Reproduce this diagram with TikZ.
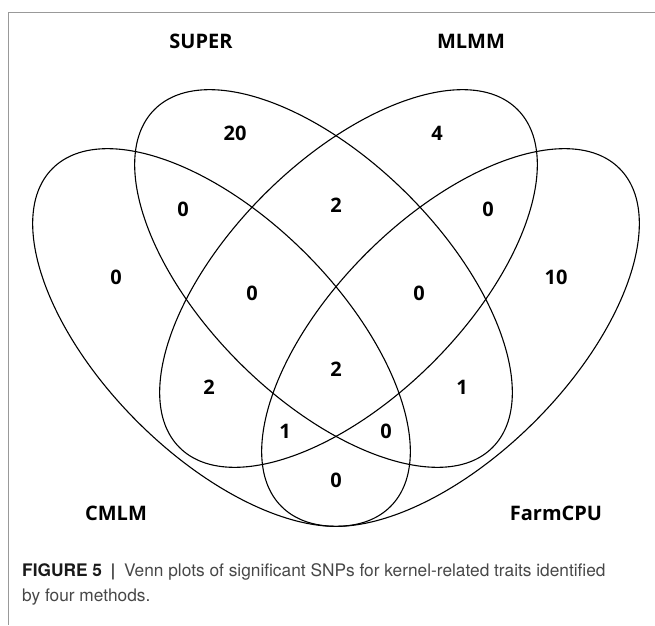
\documentclass[tikz,border=0pt]{standalone}
\usepackage{fontspec}
\usepackage{xcolor}
\usepackage{tikz}
\usetikzlibrary{positioning}
\newfontfamily\vennfont{Open Sans}
\newfontfamily\capfont{TeX Gyre Heros}

\begin{document}
\begin{tikzpicture}[
    x = 1pt, y = 1pt,
      set/.style = {draw, line width=1.1pt},
      num/.style = {font=\vennfont\bfseries\fontsize{20}{24}\selectfont,
                    inner sep=0pt},
      cat/.style = {num},
     capt/.style = {font=\capfont\fontsize{17.3}{21}\selectfont, text=black!72,
                    inner sep=0pt, anchor=base west}
                   ]
\useasboundingbox (0,0) rectangle (655,625);
% frame
\draw[black!40, line width=0.8pt] (655,613) -- (8,613) -- (8,0);
% the four sets: CMLM, SUPER, MLMM, FarmCPU
\foreach \cx/\cy/\r in {221.5/287.5/-45, 323.5/346.5/-45,
                        348.5/346.5/45, 450.5/287.5/45}
    \draw[set] (\cx,\cy) circle [x radius=239, y radius=119, rotate=\r];
% set names
\node[cat] (super) at (201,584) {SUPER};
\node[cat] (mlmm)  at (471,584) {MLMM};
\node[cat] (cmlm)  at (116,112) {CMLM};
\node[cat] (farm)  at (556,112) {FarmCPU};
% counts
\foreach \x/\y/\v [count=\k] in {235/492/20, 437/492/4,
        183/416/0, 336/420/2, 488/416/0, 116/348/0, 556/348/10,
        252/332/0, 419/332/0, 336/256/2, 209/238/2, 462/238/1,
        285/194/1, 386/194/0, 336/145/0}
    \node[num] (a\k) at (\x,\y) {\v};
% caption
\node[capt] (cap1) at (22,49) {{\bfseries\color{black!90}FIGURE 5}\enspace{\bfseries |}\enspace
    Venn plots of significant SNPs for kernel-related traits identified};
\node[capt] (cap2) at (22,24) {by four methods.};
\end{tikzpicture}
\end{document}
